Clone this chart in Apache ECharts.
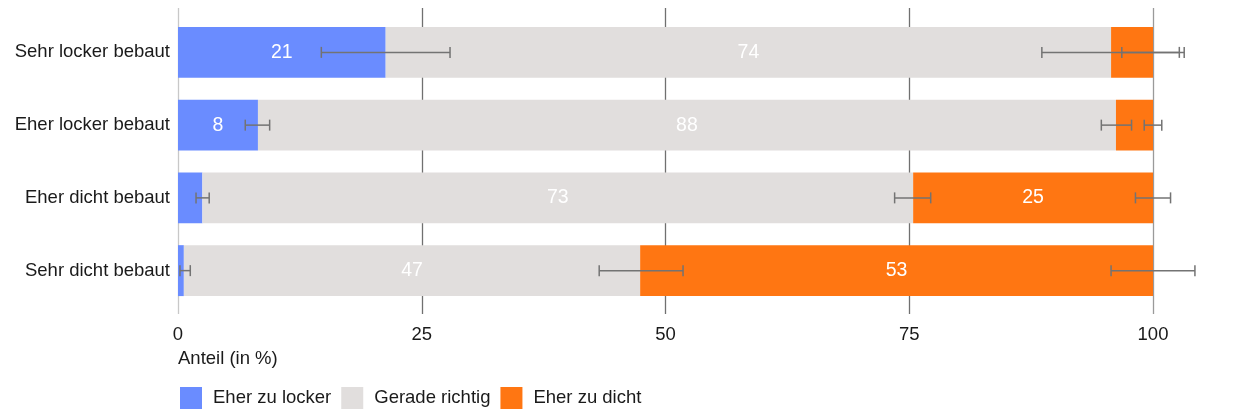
<!DOCTYPE html>
<html>
<head>
<meta charset="utf-8">
<script src="https://cdn.jsdelivr.net/npm/echarts@6/dist/echarts.min.js"></script>
<style>
html,body{margin:0;padding:0;background:#fff;}
#chart{width:1260px;height:420px;}
</style>
</head>
<body>
<div id="chart"></div>
<script>
const categories = ['Sehr locker bebaut', 'Eher locker bebaut', 'Eher dicht bebaut', 'Sehr dicht bebaut'];
const seriesNames = ['Eher zu locker', 'Gerade richtig', 'Eher zu dicht'];
const zuLocker = [21.3, 8.2, 2.5, 0.6];
const geradeRichtig = [74.4, 88.0, 72.9, 46.8];
const zuDicht = [4.3, 3.8, 24.6, 52.6];
// confidence intervals at the cumulative end of each segment [low, high]
const ciLocker = [[14.7, 27.9], [6.9, 9.4], [1.85, 3.2], [0.2, 1.26]];
const ciRichtig = [[88.6, 102.7], [94.7, 97.8], [73.5, 77.2], [43.2, 51.8]];
const ciDicht = [[96.8, 103.2], [99.1, 100.9], [98.2, 101.8], [95.7, 104.3]];
const xTicks = [0, 25, 50, 75, 100];

const colors = ['#6a8cff', '#e1dedd', '#ff7612'];
const FONT = "'Liberation Sans', Arial, sans-serif";
const FS = 18.5;

const errData = [];
[ciLocker, ciRichtig, ciDicht].forEach(ci => ci.forEach((d, i) => errData.push([i, d[0], d[1]])));

const labelCfg = {
  show: true, position: 'inside', color: '#fff', fontSize: 19.5, fontFamily: FONT,
  formatter: p => p.value >= 5 ? String(Math.round(p.value)) : ''
};

const chart = echarts.init(document.getElementById('chart'));
chart.setOption({
  animation: false,
  textStyle: { fontFamily: FONT },
  title: {
    text: 'Anteil (in %)', left: 173, top: 344,
    textStyle: { fontSize: FS, fontWeight: 'normal', color: '#1a1a1a', fontFamily: FONT }
  },
  legend: {
    left: 175, top: 382, itemWidth: 22, itemHeight: 22, itemGap: 10, icon: 'rect',
    data: seriesNames,
    textStyle: { fontSize: FS, color: '#1a1a1a', fontFamily: FONT, padding: [0, 0, 0, 6] }
  },
  grid: [
    { left: 178, right: 107, top: 8, bottom: 106 },
    { left: 178, right: 107, top: 16, bottom: 113 }
  ],
  xAxis: [
    {
      gridIndex: 0, type: 'value', min: 0, max: 100, interval: 25,
      axisLine: { show: false }, axisTick: { show: false },
      axisLabel: { fontSize: FS, color: '#1a1a1a', margin: 11, fontFamily: FONT,
        formatter: v => xTicks.includes(v) ? String(v) : '' },
      splitLine: { show: true, lineStyle: { color: ['#c8c8c8', '#707070', '#707070', '#707070', '#9a9a9a'], width: 1.3 } }
    },
    {
      gridIndex: 1, type: 'value', min: 0, max: 100, interval: 25, show: false,
      splitLine: { show: false }
    }
  ],
  yAxis: [
    { gridIndex: 0, type: 'value', show: false, min: 0, max: 1, splitLine: { show: false } },
    {
      gridIndex: 1, type: 'category', data: categories, inverse: true,
      axisLine: { show: false }, axisTick: { show: false },
      axisLabel: { fontSize: FS, color: '#1a1a1a', margin: 8, fontFamily: FONT }
    }
  ],
  series: [
    { name: seriesNames[0], type: 'bar', stack: 't', xAxisIndex: 1, yAxisIndex: 1, data: zuLocker,
      itemStyle: { color: colors[0] }, barCategoryGap: '30%', label: labelCfg },
    { name: seriesNames[1], type: 'bar', stack: 't', xAxisIndex: 1, yAxisIndex: 1, data: geradeRichtig,
      itemStyle: { color: colors[1] }, barCategoryGap: '30%', label: labelCfg },
    { name: seriesNames[2], type: 'bar', stack: 't', xAxisIndex: 1, yAxisIndex: 1, data: zuDicht,
      itemStyle: { color: colors[2] }, barCategoryGap: '30%', label: labelCfg },
    {
      type: 'custom', xAxisIndex: 1, yAxisIndex: 1, data: errData, z: 10, clip: false,
      renderItem: function (params, api) {
        const y = api.value(0);
        const a = api.coord([api.value(1), y]);
        const b = api.coord([api.value(2), y]);
        const h = 5.5;
        const st = { stroke: '#737373', lineWidth: 1.5 };
        return {
          type: 'group',
          children: [
            { type: 'line', shape: { x1: a[0], y1: a[1], x2: b[0], y2: b[1] }, style: st },
            { type: 'line', shape: { x1: a[0], y1: a[1] - h, x2: a[0], y2: a[1] + h }, style: st },
            { type: 'line', shape: { x1: b[0], y1: b[1] - h, x2: b[0], y2: b[1] + h }, style: st }
          ]
        };
      }
    }
  ]
});
</script>
</body>
</html>
